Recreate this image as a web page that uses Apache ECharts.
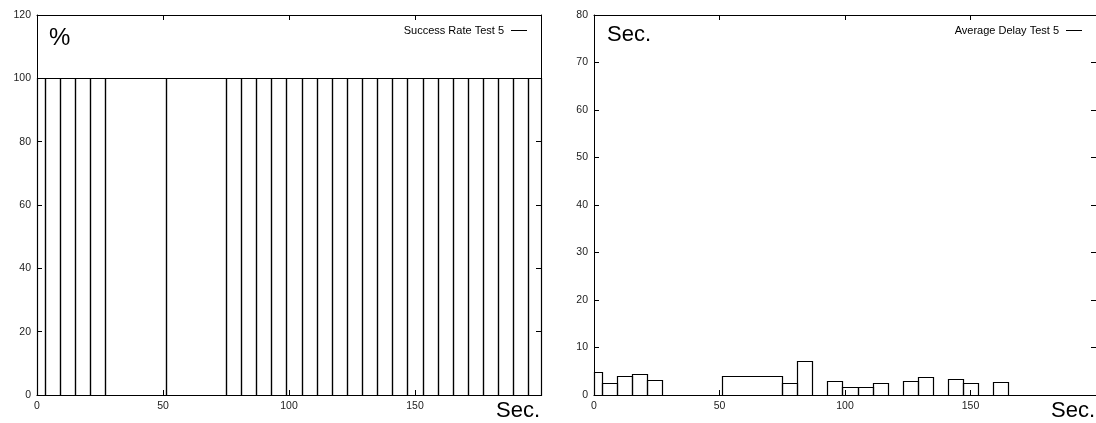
<!DOCTYPE html>
<html>
<head>
<meta charset="utf-8">
<script src="https://cdn.jsdelivr.net/npm/echarts@6/dist/echarts.min.js"></script>
<style>
html,body{margin:0;padding:0;background:#fff;}
#c{width:1096px;height:423px;}
</style>
</head>
<body>
<div id="c"></div>
<script>
// ---- data (seconds) ----
var times = [0, 6, 12, 18, 24, 30, 72, 78, 84, 90, 96, 102, 108, 114, 120, 126, 132, 138, 144, 150, 156, 162, 168, 174, 180, 186, 192, 198];
var successRate = [100, 100, 100, 100, 100, 100, 100, 100, 100, 100, 100, 100, 100, 100, 100, 100, 100, 100, 100, 100, 100, 100, 100, 100, 100, 100, 100, 100];
var avgDelay = [4.8, 2.6, 3.9, 4.5, 3.2, 0, 4.1, 2.5, 7.1, 0, 2.9, 1.6, 1.6, 2.5, 0, 3.0, 3.8, 0, 3.3, 2.6, 0, 2.8, 0, 0, 0, 0, 0, 0];
var xTicks = [0, 50, 100, 150, 200];
var rateTicks = [0, 20, 40, 60, 80, 100, 120];
var delayTicks = [0, 10, 20, 30, 40, 50, 60, 70, 80];

var X_MAX = 200;

// box edges halfway between neighbouring samples (gnuplot "boxes" auto width)
function boxes(ts, vs) {
  return ts.map(function (t, i) {
    var prev = i > 0 ? ts[i - 1] : t - (ts[1] - ts[0]);
    var next = i < ts.length - 1 ? ts[i + 1] : t + (t - ts[i - 1]);
    return [Math.max(0, (prev + t) / 2), Math.min(X_MAX, (t + next) / 2), vs[i]];
  });
}

function renderBox(params, api) {
  var p0 = api.coord([api.value(0), 0]);
  var p1 = api.coord([api.value(1), api.value(2)]);
  var x0 = Math.round(p0[0]) + 0.5, x1 = Math.round(p1[0]) + 0.5;
  var y0 = Math.round(p0[1]) + 0.5, y1 = Math.round(p1[1]) + 0.5;
  return {
    type: 'rect',
    shape: { x: x0, y: y1, width: x1 - x0, height: y0 - y1 },
    style: { fill: null, stroke: '#000', lineWidth: 1.2 }
  };
}

var FONT = '"Liberation Sans", Arial, Helvetica, sans-serif';
var tickStyle = { inside: true, length: 5, lineStyle: { color: '#000', width: 1 } };
var lineStyle = { show: true, onZero: false, lineStyle: { color: '#000', width: 1 } };
var labelStyle = { color: '#222', fontSize: 10.5, fontFamily: FONT };

function xAx(grid, pos, showLabel) {
  return {
    type: 'value', gridIndex: grid, position: pos, min: 0, max: X_MAX, interval: xTicks[1] - xTicks[0],
    axisLine: lineStyle, axisTick: tickStyle, splitLine: { show: false },
    axisLabel: Object.assign({ show: showLabel, margin: 6, showMaxLabel: false }, labelStyle)
  };
}
function yAx(grid, pos, ticks, showLabel) {
  return {
    type: 'value', gridIndex: grid, position: pos, min: ticks[0], max: ticks[ticks.length - 1],
    interval: ticks[1] - ticks[0],
    axisLine: lineStyle, axisTick: tickStyle, splitLine: { show: false },
    axisLabel: Object.assign({ show: showLabel, margin: 6 }, labelStyle)
  };
}

var chart = echarts.init(document.getElementById('c'), null, { renderer: 'canvas' });
chart.setOption({
  animation: false,
  backgroundColor: '#fff',
  grid: [
    { left: 37, top: 15, width: 504, height: 380 },
    { left: 594, top: 15, width: 504, height: 380 }
  ],
  xAxis: [xAx(0, 'bottom', true), xAx(0, 'top', false), xAx(1, 'bottom', true), xAx(1, 'top', false)],
  yAxis: [yAx(0, 'left', rateTicks, true), yAx(0, 'right', rateTicks, false),
          yAx(1, 'left', delayTicks, true), yAx(1, 'right', delayTicks, false)],
  legend: [
    { data: [{ name: 'Success Rate Test 5', icon: 'path://M0,0h16v1h-16z' }], right: 569, top: 25,
      align: 'right', itemWidth: 16, itemHeight: 1, padding: 0,
      textStyle: { fontSize: 11, fontFamily: FONT, color: '#000', padding: [0, 2, 0, 0] } },
    { data: [{ name: 'Average Delay Test 5', icon: 'path://M0,0h16v1h-16z' }], right: 14, top: 25,
      align: 'right', itemWidth: 16, itemHeight: 1, padding: 0,
      textStyle: { fontSize: 11, fontFamily: FONT, color: '#000', padding: [0, 2, 0, 0] } }
  ],
  graphic: [
    { type: 'text', left: 49, top: 26, style: { text: '%', font: '24px ' + FONT, fill: '#000' } },
    { type: 'text', left: 496, top: 400, style: { text: 'Sec.', font: '22px ' + FONT, fill: '#000' } },
    { type: 'text', left: 607, top: 24, style: { text: 'Sec.', font: '22px ' + FONT, fill: '#000' } },
    { type: 'text', left: 1051, top: 400, style: { text: 'Sec.', font: '22px ' + FONT, fill: '#000' } }
  ],
  series: [
    { name: 'Success Rate Test 5', type: 'custom', xAxisIndex: 0, yAxisIndex: 0,
      itemStyle: { color: '#000' }, renderItem: renderBox, encode: { x: [0, 1], y: 2 },
      data: boxes(times, successRate) },
    { name: 'Average Delay Test 5', type: 'custom', xAxisIndex: 2, yAxisIndex: 2,
      itemStyle: { color: '#000' }, renderItem: renderBox, encode: { x: [0, 1], y: 2 },
      data: boxes(times, avgDelay) }
  ]
});
</script>
</body>
</html>
